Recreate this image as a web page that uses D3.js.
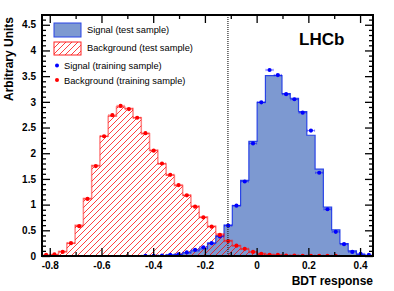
<!DOCTYPE html>
<html>
<head>
<meta charset="utf-8">
<script src="https://cdn.jsdelivr.net/npm/d3@7"></script>
<style>
  body { margin: 0; background: #fff; }
  text { font-family: "Liberation Sans", Arial, sans-serif; }
</style>
</head>
<body>
<script>
// histogram binning (40 bins)
var xMin = -0.83;
var binWidth = 0.032;
var nBins = 40;
var binEdges = d3.range(nBins + 1).map(i => xMin + i * binWidth);

// bin contents
var sigTest = [0, 0, 0, 0, 0, 0, 0, 0, 0, 0, 0, 0, 0.003, 0.005, 0.01, 0.02, 0.03, 0.06, 0.1, 0.14,
  0.25, 0.39, 0.6, 0.98, 1.47, 2.23, 2.99, 3.51, 3.51, 3.16, 3.07, 2.81, 2.35, 1.69, 0.95, 0.51, 0.24, 0.1, 0.03, 0.01];
var sigTrain = [0, 0, 0, 0, 0, 0, 0, 0, 0, 0, 0, 0, 0.003, 0.005, 0.01, 0.02, 0.03, 0.07, 0.12, 0.17,
  0.25, 0.38, 0.59, 0.98, 1.45, 2.19, 2.99, 3.62, 3.52, 3.15, 3.05, 2.79, 2.44, 1.62, 0.91, 0.47, 0.23, 0.08, 0.04, 0.02];
var bkgTest = [0.01, 0.02, 0.09, 0.25, 0.6, 1.12, 1.76, 2.33, 2.72, 2.9, 2.87, 2.69, 2.38, 2.06, 1.79, 1.57, 1.37, 1.18, 0.97, 0.76,
  0.58, 0.43, 0.3, 0.2, 0.13, 0.08, 0.05, 0.03, 0.02, 0.01, 0.01, 0.005, 0.005, 0.003, 0.003, 0.003, 0, 0, 0, 0];
var bkgTrain = [0.02, 0.03, 0.08, 0.25, 0.58, 1.11, 1.75, 2.33, 2.74, 2.92, 2.86, 2.69, 2.39, 2.05, 1.8, 1.58, 1.38, 1.18, 0.96, 0.75,
  0.57, 0.41, 0.29, 0.2, 0.14, 0.08, 0.04, 0.02, 0.02, 0.01, 0.01, 0.005, 0.005, 0.003, 0.003, 0.003, 0, 0, 0, 0];

var cutValue = -0.111;

var xMajor = [-0.8, -0.6, -0.4, -0.2, 0, 0.2, 0.4];
var xMinor = [-0.7, -0.5, -0.3, -0.1, 0.1, 0.3];
var yMajor = [0, 0.5, 1, 1.5, 2, 2.5, 3, 3.5, 4, 4.5];

var legendItems = ["Signal (test sample)", "Background (test sample)",
  "Signal (training sample)", "Background (training sample)"];

var svgWidth = 394;
var svgHeight = 291;

var margin = {
  top: 15,
  right: 21,
  bottom: 35,
  left: 42
};

var width = svgWidth - margin.left - margin.right;
var height = svgHeight - margin.top - margin.bottom;

var sigFill = "#7d99d1";
var sigLine = "#2a45e6";
var bkgLine = "#ff2020";

var svg = d3.select("body")
  .append("svg")
  .attr("width", svgWidth)
  .attr("height", svgHeight);

var defs = svg.append("defs");
defs.append("clipPath").attr("id", "frame")
  .append("rect").attr("width", width).attr("height", height);

var hatch = defs.append("pattern")
  .attr("id", "hatch")
  .attr("patternUnits", "userSpaceOnUse")
  .attr("width", 6)
  .attr("height", 6);
hatch.append("path")
  .attr("d", "M0,6 L6,0 M-1,1 L1,-1 M5,7 L7,5")
  .attr("stroke", "#ff0000")
  .attr("stroke-width", 0.75);

var chartGroup = svg.append("g")
  .attr("transform", `translate(${margin.left}, ${margin.top})`);

var xScale = d3.scaleLinear()
  .domain([xMin, xMin + nBins * binWidth])
  .range([0, width]);

var yScale = d3.scaleLinear()
  .domain([0, 4.69])
  .range([height, 0]);

function histPoints(vals) {
  var pts = [[binEdges[0], 0]];
  vals.forEach((v, i) => pts.push([binEdges[i], v]));
  pts.push([binEdges[nBins], vals[nBins - 1]]);
  pts.push([binEdges[nBins], 0]);
  return pts;
}

var area = d3.area()
  .curve(d3.curveStepAfter)
  .x(d => xScale(d[0]))
  .y0(yScale(0))
  .y1(d => yScale(d[1]));

var line = d3.line()
  .curve(d3.curveStepAfter)
  .x(d => xScale(d[0]))
  .y(d => yScale(d[1]));

var plot = chartGroup.append("g").attr("clip-path", "url(#frame)");

plot.append("path")
  .attr("d", area(histPoints(sigTest)))
  .attr("fill", sigFill);

plot.append("path")
  .attr("d", area(histPoints(bkgTest)))
  .attr("fill", "url(#hatch)");

plot.append("path")
  .attr("d", line(histPoints(sigTest)))
  .attr("fill", "none")
  .attr("stroke", sigLine)
  .attr("stroke-width", 1.2);

plot.append("path")
  .attr("d", line(histPoints(bkgTest)))
  .attr("fill", "none")
  .attr("stroke", bkgLine)
  .attr("stroke-opacity", 0.55)
  .attr("stroke-width", 1.5);

// training sample markers with bin-width error bars
function drawPoints(vals, color) {
  var pts = vals.map((v, i) => ({ x: binEdges[i] + binWidth / 2, v: v })).filter(d => d.v > 0);
  var g = plot.append("g");
  g.selectAll(".hbar")
    .data(pts)
    .enter()
    .append("line")
    .attr("x1", d => xScale(d.x - binWidth / 2) + 0.5)
    .attr("x2", d => xScale(d.x + binWidth / 2) - 0.5)
    .attr("y1", d => yScale(d.v))
    .attr("y2", d => yScale(d.v))
    .attr("stroke", color)
    .attr("stroke-opacity", 0.5)
    .attr("stroke-width", 1);
  g.selectAll(".cap")
    .data(pts)
    .enter()
    .append("path")
    .attr("d", d => {
      var a = xScale(d.x - binWidth / 2) + 0.5, b = xScale(d.x + binWidth / 2) - 0.5, y = yScale(d.v);
      return `M${a},${y - 1.2}V${y + 1.2}M${b},${y - 1.2}V${y + 1.2}`;
    })
    .attr("stroke", color)
    .attr("stroke-opacity", 0.5)
    .attr("stroke-width", 0.8);
  g.selectAll("circle")
    .data(pts)
    .enter()
    .append("circle")
    .attr("cx", d => xScale(d.x))
    .attr("cy", d => yScale(d.v))
    .attr("r", 2.1)
    .attr("fill", color);
}

drawPoints(sigTrain, "#0000ff");
drawPoints(bkgTrain, "#ff0000");

// cut line
chartGroup.append("line")
  .attr("x1", xScale(cutValue))
  .attr("x2", xScale(cutValue))
  .attr("y1", 0)
  .attr("y2", height)
  .attr("stroke", "#222")
  .attr("stroke-width", 1.2)
  .attr("stroke-dasharray", "1,1");

// axes, ROOT style ticks pointing inwards
function styleAxis(g) {
  g.select(".domain").remove();
  g.selectAll("line").attr("stroke", "#000").attr("stroke-width", 1.3);
  g.selectAll("text")
    .attr("font-size", "10px")
    .attr("font-weight", "bold")
    .attr("fill", "#000");
}

var xFmt = d => d === 0 ? "0" : d.toFixed(1);

chartGroup.append("g")
  .attr("transform", `translate(0, ${height})`)
  .call(d3.axisBottom(xScale).tickValues(xMajor).tickSize(-8).tickPadding(6).tickFormat(xFmt))
  .call(styleAxis);
chartGroup.append("g")
  .attr("transform", `translate(0, ${height})`)
  .call(d3.axisBottom(xScale).tickValues(xMinor).tickSize(-4).tickFormat(""))
  .call(styleAxis);
chartGroup.append("g")
  .call(d3.axisTop(xScale).tickValues(xMajor).tickSize(-8).tickFormat(""))
  .call(styleAxis);
chartGroup.append("g")
  .call(d3.axisTop(xScale).tickValues(xMinor).tickSize(-4).tickFormat(""))
  .call(styleAxis);

var yMinor = d3.range(0, 47).map(i => i / 10).filter(v => Math.abs(v * 2 - Math.round(v * 2)) > 1e-6);

chartGroup.append("g")
  .call(d3.axisLeft(yScale).tickValues(yMajor).tickSize(-8).tickPadding(6).tickFormat(d3.format("~g")))
  .call(styleAxis);
chartGroup.append("g")
  .call(d3.axisLeft(yScale).tickValues(yMinor).tickSize(-4).tickFormat(""))
  .call(styleAxis);
chartGroup.append("g")
  .attr("transform", `translate(${width}, 0)`)
  .call(d3.axisRight(yScale).tickValues(yMajor).tickSize(-8).tickFormat(""))
  .call(styleAxis);
chartGroup.append("g")
  .attr("transform", `translate(${width}, 0)`)
  .call(d3.axisRight(yScale).tickValues(yMinor).tickSize(-4).tickFormat(""))
  .call(styleAxis);

chartGroup.append("rect")
  .attr("width", width)
  .attr("height", height)
  .attr("fill", "none")
  .attr("stroke", "#000")
  .attr("stroke-width", 2);

// axis titles
svg.append("text")
  .attr("x", margin.left + width)
  .attr("y", 285)
  .attr("text-anchor", "end")
  .attr("font-size", "12px")
  .attr("font-weight", "bold")
  .text("BDT response");

svg.append("text")
  .attr("transform", "rotate(-90)")
  .attr("x", -17)
  .attr("y", 13)
  .attr("text-anchor", "end")
  .attr("font-size", "12px")
  .attr("font-weight", "bold")
  .text("Arbitrary Units");

svg.append("text")
  .attr("x", 299)
  .attr("y", 45)
  .attr("font-size", "17px")
  .attr("font-weight", "bold")
  .text("LHCb");

// legend
var legend = svg.append("g");
legend.append("rect")
  .attr("x", 54).attr("y", 23).attr("width", 27).attr("height", 14)
  .attr("fill", sigFill).attr("stroke", sigLine).attr("stroke-width", 1);
legend.append("rect")
  .attr("x", 54).attr("y", 42).attr("width", 27).attr("height", 13)
  .attr("fill", "url(#hatch)").attr("stroke", bkgLine).attr("stroke-width", 1);
legend.append("circle").attr("cx", 57).attr("cy", 65.5).attr("r", 2).attr("fill", "#0000ff");
legend.append("circle").attr("cx", 57).attr("cy", 80).attr("r", 2).attr("fill", "#ff0000");

var legendPos = [[87, 33], [87, 51], [64, 69], [64, 83.5]];
legend.selectAll(".ltext")
  .data(legendItems)
  .enter()
  .append("text")
  .attr("x", (d, i) => legendPos[i][0])
  .attr("y", (d, i) => legendPos[i][1])
  .attr("font-size", "9.3px")
  .text(d => d);
</script>
</body>
</html>
